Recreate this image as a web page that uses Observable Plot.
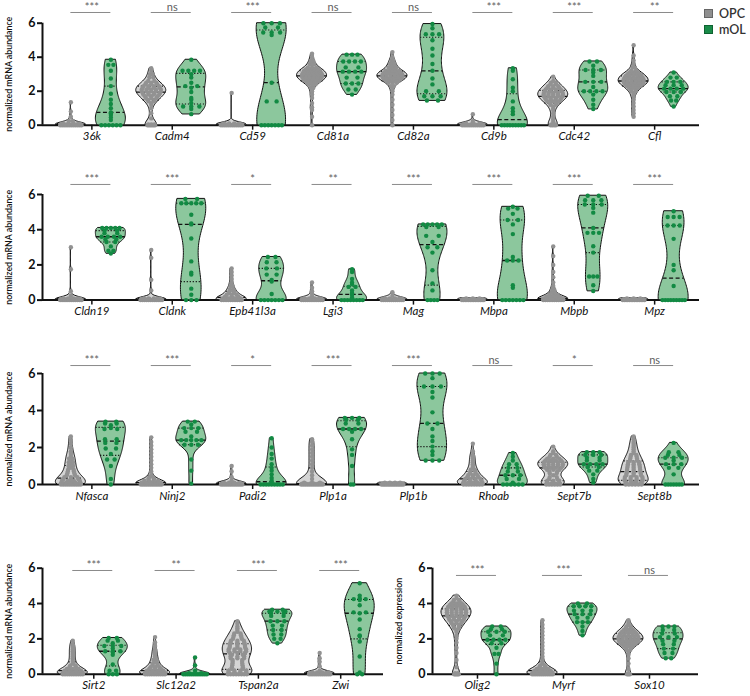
<!DOCTYPE html>
<html><head><meta charset="utf-8">
<script src="https://cdn.jsdelivr.net/npm/d3@7"></script>
<script src="https://cdn.jsdelivr.net/npm/@observablehq/plot@0.6"></script>
<style>
body{margin:0;background:#fff;font-family:Lato,"Open Sans",sans-serif}
#fig{position:relative;width:750px;height:696px;overflow:hidden;background:#fff}
#fig svg{position:absolute;background:transparent;overflow:visible}
.lg{position:absolute;left:704px;font:600 12.5px Lato,sans-serif;color:#333;display:flex;align-items:center;height:12px}
.lg span.sw{display:inline-block;width:9px;height:9px;margin-right:6px;box-sizing:border-box}
</style></head><body><div id="fig"></div><script>
// ---------------- data ----------------
const genesRow1 = ["36k","Cadm4","Cd59","Cd81a","Cd82a","Cd9b","Cdc42","Cfl"];
const sigRow1 = ["***","ns","***","ns","ns","***","***","**"];
const opcRow1 = [
 [0,0,0,0,0,0,0,0,0,0,0,0,0.05,0.05,0.05,0.05,0.05,0.05,0.1,0.1,0.1,0.1,0.25,0.25,0.5,0.8,1.35],
 [0,0,0,0,0,0,0.05,0.05,0.05,0.4,0.7,1,1.2,1.3,1.4,1.4,1.5,1.5,1.6,1.6,1.6,1.7,1.7,1.7,1.8,1.8,1.8,1.8,1.9,1.9,1.9,1.9,2,2,2,2,2,2.1,2.1,2.1,2.1,2.1,2.2,2.2,2.2,2.2,2.3,2.3,2.3,2.3,2.4,2.4,2.4,2.5,2.5,2.5,2.6,2.6,2.8,2.8,3,3,3.2,3.35],
 [0,0,0,0,0,0,0,0,0,0,0,0,0.05,0.05,0.05,0.05,0.05,0.05,0.1,0.1,0.1,0.1,1.9],
 [0,0.5,0.9,1.05,1.3,1.6,1.8,2,2.2,2.2,2.4,2.4,2.4,2.5,2.5,2.5,2.6,2.6,2.6,2.6,2.7,2.7,2.7,2.7,2.7,2.8,2.8,2.8,2.8,2.8,2.8,2.9,2.9,2.9,2.9,2.9,2.9,3,3,3,3,3,3,3.1,3.1,3.1,3.1,3.1,3.2,3.2,3.2,3.2,3.2,3.3,3.3,3.3,3.3,3.4,3.4,3.4,3.6,3.6,3.6,3.8,3.8,4,4.2],
 [0,0.3,0.6,0.9,1.2,1.5,1.8,2,2.2,2.3,2.3,2.5,2.5,2.5,2.6,2.6,2.6,2.6,2.7,2.7,2.7,2.7,2.7,2.8,2.8,2.8,2.8,2.8,2.8,2.9,2.9,2.9,2.9,2.9,2.9,3,3,3,3,3,3,3.1,3.1,3.1,3.1,3.1,3.2,3.2,3.2,3.2,3.2,3.4,3.4,3.4,3.4,3.6,3.6,3.6,3.8,3.8,4,4.3],
 [0,0,0,0,0,0,0,0,0,0,0,0,0.05,0.05,0.05,0.05,0.05,0.05,0.1,0.1,0.1,0.25,0.65],
 [0,0,0,0,0.05,0.05,0.2,0.35,0.5,0.7,0.9,1,1.1,1.2,1.2,1.3,1.3,1.4,1.4,1.4,1.5,1.5,1.5,1.5,1.6,1.6,1.6,1.6,1.7,1.7,1.7,1.7,1.7,1.8,1.8,1.8,1.8,1.8,1.9,1.9,1.9,1.9,1.9,2,2,2,2,2.1,2.1,2.1,2.1,2.2,2.2,2.2,2.3,2.3,2.3,2.4,2.4,2.5,2.5,2.6,2.85],
 [0.5,0.7,0.9,1.1,1.3,1.5,1.7,1.8,1.9,2,2,2.1,2.1,2.2,2.2,2.2,2.3,2.3,2.3,2.3,2.4,2.4,2.4,2.4,2.4,2.5,2.5,2.5,2.5,2.5,2.5,2.6,2.6,2.6,2.6,2.6,2.6,2.7,2.7,2.7,2.7,2.7,2.7,2.8,2.8,2.8,2.8,2.8,2.9,2.9,2.9,2.9,2.9,3,3,3,3,3.1,3.1,3.1,3.2,3.2,3.4,3.4,3.6,3.8,4.1,4.7]
];
const molRow1 = [
 [0,0,0,0,0,0,0.3,0.45,0.6,0.7,0.75,1,1.25,1.5,1.85,2.3,2.75,3.2,3.55,3.55,3.85],
 [0.65,0.95,1.1,1.1,1.1,1.3,1.5,1.6,1.95,2.2,2.3,2.3,2.5,2.8,3,3.2,3.2,3.2,3.2,3.85],
 [0,0,0,0,0,0,0,1.4,1.4,2.5,5.3,5.45,5.45,5.45,5.75,5.75,6,6,6],
 [1.8,2.1,2.1,2.45,2.45,2.45,2.8,2.8,3.15,3.15,3.15,3.15,3.4,3.4,3.75,3.75,3.75,3.75,4.15,4.15,4.15],
 [1.45,1.45,1.7,1.7,1.7,2,2,2.4,2.75,3.2,3.6,4.1,4.5,5,5.35,5.35,5.35,5.7,5.95],
 [0,0,0,0,0,0,0,0,0,0.65,0.8,1,1.4,2,2.2,2.7,3.2,3.35],
 [0.95,1.2,1.5,1.8,2,2,2,2,2.25,2.55,2.55,2.55,2.9,3.1,3.25,3.25,3.25,3.5,3.75,3.75],
 [1.1,1.45,1.45,1.7,1.7,1.95,1.95,1.95,2.15,2.15,2.15,2.15,2.35,2.35,2.35,2.55,2.55,2.55,2.8,2.8,3.1]
];

const genesRow2 = ["Cldn19","Cldnk","Epb41l3a","Lgi3","Mag","Mbpa","Mbpb","Mpz"];
const sigRow2 = ["***","***","*","**","***","***","***","***"];
const opcRow2 = [
 [0,0,0,0,0,0,0,0,0,0,0,0,0.05,0.05,0.05,0.05,0.05,0.05,0.1,0.1,0.1,0.1,0.25,0.5,1.75,3],
 [0,0,0,0,0,0,0,0,0,0,0,0,0.05,0.05,0.05,0.05,0.05,0.05,0.1,0.1,0.1,0.1,0.55,1.15,2.4,2.85],
 [0,0,0,0,0,0,0,0,0,0,0.05,0.05,0.05,0.05,0.05,0.1,0.1,0.1,0.1,0.2,0.2,0.2,0.3,0.3,0.3,0.4,0.4,0.5,0.5,0.6,0.6,0.8,0.8,1,1.2,1.4,1.6,1.8],
 [0,0,0,0,0,0,0,0,0,0,0,0,0.05,0.05,0.05,0.05,0.05,0.05,0.1,0.1,0.1,0.1,0.2,0.35,0.5,0.7,1],
 [0,0,0,0,0,0,0,0,0,0,0,0,0.05,0.05,0.05,0.05,0.05,0.05,0.1,0.1,0.1,0.1,0.25,0.45],
 [0,0,0,0,0,0,0,0,0,0,0,0,0,0,0.05,0.05,0.05,0.05,0.05,0.05,0.1,0.1,0.1],
 [0,0,0,0,0,0,0,0,0,0,0.05,0.05,0.05,0.05,0.05,0.05,0.1,0.1,0.1,0.1,0.1,0.2,0.2,0.2,0.2,0.3,0.3,0.3,0.45,0.45,0.6,0.6,0.8,1,1.3,1.6,2,2.5,3.05],
 [0,0,0,0,0,0,0,0,0,0,0,0,0,0,0.05,0.05,0.05,0.05,0.05,0.05,0.1,0.1,0.1]
];
const molRow2 = [
 [2.65,2.8,2.8,3.05,3.3,3.3,3.45,3.45,3.6,3.6,3.6,3.6,3.8,3.8,3.95,3.95,4.1,4.1,4.1,4.1,4.1],
 [0,0,0,0.3,0.65,1.45,1.55,2.2,3.5,4.3,4.35,4.85,5.5,5.5,5.5,5.5,5.5,5.75,5.75],
 [0,0,0,0,0,0,0,0.35,1.05,1.15,1.45,1.45,1.8,1.8,2.15,2.15,2.45,2.45],
 [0,0,0,0,0,0,0,0,0.15,0.3,0.35,0.4,0.55,0.75,0.75,0.9,1,1.2,1.6,1.75],
 [0,0,0,0,0.55,0.95,1.7,2.7,3,3,3.3,3.65,3.65,4.15,4.15,4.3,4.3,4.3,4.3,4.3],
 [0,0,0,0,0,0,0,0.7,0.85,2.25,2.25,2.25,2.45,3.75,4.3,4.55,4.55,4.9,5.2,5.2,5.3],
 [0.52,0.84,1.34,1.34,1.34,2.7,3.06,3.82,3.82,3.82,4.1,4.97,5.24,5.43,5.43,5.43,5.67,5.67,5.67,5.93,5.93],
 [0,0,0,0,0,0,0,0,0,0.8,1.7,2,3.48,4.24,4.24,4.24,4.72,4.72,4.72,5.05]
];

const genesRow3 = ["Nfasca","Ninj2","Padi2","Plp1a","Plp1b","Rhoab","Sept7b","Sept8b"];
const sigRow3 = ["***","***","*","***","***","ns","*","ns"];
const opcRow3 = [
 [0,0,0,0,0,0,0,0,0,0,0.05,0.05,0.05,0.05,0.05,0.05,0.1,0.1,0.1,0.1,0.1,0.2,0.2,0.2,0.2,0.3,0.3,0.3,0.4,0.4,0.4,0.5,0.5,0.6,0.6,0.7,0.7,0.8,0.8,0.9,1,1,1.1,1.2,1.2,1.3,1.4,1.4,1.5,1.6,1.7,1.8,2,2.2,2.4,2.6],
 [0,0,0,0,0,0,0,0,0,0,0,0,0.05,0.05,0.05,0.05,0.05,0.05,0.1,0.1,0.1,0.1,0.1,0.2,0.2,0.2,0.2,0.3,0.3,0.4,0.4,0.5,0.7,0.9,1.1,1.3,1.5,1.7,1.9,2.1,2.3,2.55],
 [0,0,0,0,0,0,0,0,0,0,0,0,0.05,0.05,0.05,0.05,0.05,0.05,0.1,0.1,0.1,0.1,0.2,0.4,0.7,1],
 [0,0,0,0,0,0,0,0,0,0,0,0,0.05,0.05,0.05,0.05,0.05,0.05,0.1,0.1,0.1,0.3,0.5,0.7,0.9,1.1,1.3,1.5,1.7,1.9,2.1,2.3,2.45],
 [0,0,0,0,0,0,0,0,0,0,0,0,0,0,0.05,0.05,0.05,0.05,0.05,0.05,0.1,0.1,0.1,0.1],
 [0,0,0,0,0,0,0,0,0.05,0.05,0.05,0.05,0.05,0.05,0.1,0.1,0.1,0.1,0.1,0.2,0.2,0.2,0.2,0.3,0.3,0.3,0.3,0.4,0.4,0.4,0.5,0.5,0.5,0.6,0.6,0.7,0.7,0.8,0.8,0.9,1,1.1,1.2,1.3,1.4,1.5,1.6,1.8,2.2],
 [0,0,0,0,0,0,0.05,0.05,0.05,0.05,0.1,0.1,0.1,0.2,0.2,0.2,0.3,0.3,0.4,0.4,0.5,0.6,0.6,0.7,0.7,0.8,0.8,0.8,0.9,0.9,0.9,0.9,1,1,1,1,1,1.1,1.1,1.1,1.1,1.1,1.2,1.2,1.2,1.2,1.2,1.3,1.3,1.3,1.3,1.4,1.4,1.4,1.5,1.5,1.6,1.6,1.7,1.8,2.05],
 [0,0,0,0,0,0,0.05,0.05,0.05,0.05,0.1,0.1,0.1,0.2,0.2,0.2,0.2,0.3,0.3,0.3,0.3,0.4,0.4,0.4,0.4,0.5,0.5,0.5,0.6,0.6,0.6,0.7,0.7,0.7,0.8,0.8,0.8,0.9,0.9,0.9,1,1,1,1.1,1.1,1.1,1.2,1.2,1.2,1.3,1.3,1.4,1.4,1.5,1.5,1.6,1.6,1.7,1.8,1.9,2,2.1,2.2,2.3,2.45,2.6]
];
const molRow3 = [
 [0,0.3,1,1.35,1.35,1.65,1.95,1.95,2.25,2.25,2.45,2.45,3,3,3.05,3.2,3.3,3.3,3.4,3.4],
 [0.05,0.75,1.35,2.15,2.15,2.15,2.4,2.4,2.4,2.4,2.4,2.6,2.85,2.85,3.05,3.05,3.05,3.25,3.4,3.4],
 [0,0,0,0,0,0,0,0,0,0.1,0.2,0.35,0.55,0.75,0.9,1.1,1.4,1.65,2,2.5],
 [0,0,1,1.6,1.9,2.45,2.85,3,3,3,3,3.3,3.3,3.5,3.5,3.6,3.6,3.6],
 [1.3,1.3,1.3,1.6,1.8,2.05,2.35,2.6,3,3.3,3.3,3.9,4.7,5,5.3,5.3,5.3,5.75,6,6,6],
 [0,0,0,0,0,0,0.1,0.3,0.3,0.5,0.5,0.5,0.7,0.7,0.9,0.9,1.1,1.1,1.3,1.5,1.7],
 [0.1,0.3,0.55,0.75,0.75,0.95,0.95,1.1,1.1,1.1,1.1,1.3,1.3,1.45,1.45,1.6,1.6,1.6,1.75,1.75,1.75],
 [0,0,0,0,0,0,0,0.55,0.9,0.9,1.1,1.1,1.1,1.3,1.45,1.45,1.45,1.6,1.6,1.75,1.75,2.25]
];

const genesRow4a = ["Sirt2","Slc12a2","Tspan2a","Zwi"];
const sigRow4a = ["***","**","***","***"];
const opcRow4a = [
 [0,0,0,0,0,0,0,0,0,0,0.05,0.05,0.05,0.05,0.05,0.05,0.1,0.1,0.1,0.1,0.1,0.2,0.2,0.2,0.2,0.3,0.3,0.3,0.4,0.4,0.5,0.5,0.6,0.7,0.8,0.9,1,1.1,1.2,1.3,1.4,1.5,1.6,1.7,1.9],
 [0,0,0,0,0,0,0,0,0,0,0.05,0.05,0.05,0.05,0.05,0.05,0.1,0.1,0.1,0.1,0.1,0.2,0.2,0.2,0.2,0.3,0.3,0.3,0.4,0.4,0.4,0.5,0.5,0.6,0.6,0.7,0.8,0.8,0.9,1,1.1,1.2,1.3,1.4,1.6,1.8,2.1],
 [0,0,0,0,0,0,0,0,0.05,0.05,0.05,0.05,0.1,0.1,0.1,0.1,0.2,0.2,0.2,0.2,0.3,0.3,0.4,0.4,0.5,0.5,0.6,0.6,0.7,0.7,0.8,0.8,0.9,0.9,0.9,1,1,1,1.1,1.1,1.2,1.2,1.2,1.3,1.3,1.3,1.3,1.4,1.4,1.4,1.4,1.5,1.5,1.5,1.6,1.6,1.6,1.7,1.7,1.7,1.8,1.8,1.8,1.9,1.9,1.9,2,2,2.1,2.1,2.2,2.2,2.3,2.3,2.4,2.5,2.6,2.7,2.85,3],
 [0,0,0,0,0,0,0,0,0,0,0,0,0.05,0.05,0.05,0.05,0.05,0.05,0.1,0.1,0.1,0.1,0.2,0.45,0.7,0.9,1.2]
];
const molRow4a = [
 [0,0,0,0.2,0.2,0.55,1.1,1.25,1.3,1.3,1.3,1.45,1.6,1.6,1.6,1.75,1.9,1.9,2.05,2.05],
 [0,0,0,0,0,0,0,0,0,0,0,0,0,0.05,0.05,0.2,0.5,0.95],
 [1.75,2,2,2.25,2.25,2.5,2.5,2.75,2.75,3,3,3,3.3,3.3,3.45,3.45,3.55,3.55,3.55,3.65,3.65],
 [0,0,0.1,1,1.85,2.15,2.2,2.55,3.1,3.45,3.5,3.5,3.9,4.2,4.25,4.25,4.3,4.45,5.15]
];

const genesRow4b = ["Olig2","Myrf","Sox10"];
const sigRow4b = ["***","***","ns"];
const opcRow4b = [
 [0,0,0,0,0,0.05,0.05,0.4,0.8,1.2,1.5,1.8,2,2.2,2.4,2.5,2.6,2.6,2.7,2.7,2.8,2.8,2.9,2.9,2.9,3,3,3,3.1,3.1,3.1,3.1,3.2,3.2,3.2,3.2,3.3,3.3,3.3,3.3,3.3,3.4,3.4,3.4,3.4,3.4,3.5,3.5,3.5,3.5,3.5,3.6,3.6,3.6,3.6,3.6,3.7,3.7,3.7,3.7,3.7,3.8,3.8,3.8,3.8,3.8,3.9,3.9,3.9,3.9,4,4,4,4.1,4.1,4.2,4.2,4.3,4.45],
 [0,0,0,0,0,0,0,0,0,0,0,0,0.05,0.05,0.05,0.05,0.05,0.05,0.1,0.1,0.1,0.1,0.1,0.2,0.2,0.2,0.2,0.3,0.3,0.3,0.4,0.4,0.5,0.5,0.6,0.8,1,1.2,1.4,1.6,1.8,2,2.2,2.4,2.6,2.8,3.05],
 [0,0,0,0.05,0.3,0.6,0.9,1.1,1.3,1.4,1.4,1.5,1.5,1.6,1.6,1.6,1.7,1.7,1.7,1.7,1.8,1.8,1.8,1.8,1.8,1.9,1.9,1.9,1.9,1.9,1.9,2,2,2,2,2,2,2.1,2.1,2.1,2.1,2.1,2.1,2.2,2.2,2.2,2.2,2.2,2.3,2.3,2.3,2.3,2.3,2.4,2.4,2.4,2.4,2.5,2.5,2.5,2.6,2.6,2.7,2.7,2.8,2.9,3.05]
];
const molRow4b = [
 [0,0.6,1.15,1.15,1.5,1.75,1.75,1.95,1.95,1.95,1.95,2.2,2.2,2.4,2.4,2.4,2.55,2.55,2.7,2.7],
 [2.2,2.45,2.7,2.95,2.95,2.95,3.2,3.2,3.4,3.4,3.4,3.6,3.6,3.6,3.85,3.85,3.85,3.85,4,4],
 [0.9,0.9,1.2,1.2,1.45,1.45,1.7,1.7,1.9,1.9,2.1,2.1,2.1,2.3,2.3,2.5,2.5,2.7,2.7,2.7]
];

const yTicks = [0, 2, 4, 6];
const groupNames = ["OPC", "mOL"];

// ---------------- styles ----------------
const fillOf = {OPC: "#d4d4d4", mOL: "#8cc79d"};
const dotOf = {OPC: "#929292", mOL: "#128a43"};
const swatchOf = {OPC: "#8f8f8f", mOL: "#1a8b49"};
const FONT = "Lato, 'Open Sans', sans-serif";

function panel(p) {
  const {genes, sig, opc, mol} = p;
  const n = genes.length;
  const spacing = (p.xEnd - p.xAxis) / (p.dom[1] - p.dom[0]);
  const hw = 15 / spacing, offO = 21 / spacing, offM = 19 / spacing;
  const areas = [], quarts = [], dots = [];
  genes.forEach((g, i) => {
    [["OPC", opc[i]], ["mOL", mol[i]]].forEach(([grp, vals]) => {
      const c = i + (grp === "OPC" ? -offO : offM);
      const v = vals.slice().sort(d3.ascending);
      const lo = v[0], hi = v[v.length - 1];
      const sd = d3.deviation(v) || 0;
      const iqr = (d3.quantile(v, 0.75) - d3.quantile(v, 0.25)) / 1.34;
      let s = Math.min(sd, iqr); if (!(s > 0)) s = sd;
      const h = Math.max(0.12, 0.9 * s * Math.pow(v.length, -0.2));
      const dens = y => d3.sum(v, x => Math.exp(-0.5 * ((y - x) / h) ** 2));
      const N = 60;
      const ys = d3.range(N + 1).map(k => lo + (hi - lo) * k / N);
      const ds = ys.map(dens);
      const mx = d3.max(ds);
      const w = y => hw * dens(y) / mx;
      ys.forEach((y, k) => areas.push({key: g + grp, grp, y, x1: c - hw * ds[k] / mx, x2: c + hw * ds[k] / mx}));
      [[0.25, "q"], [0.5, "m"], [0.75, "q"]].forEach(([q, kind]) => {
        const y = d3.quantile(v, q);
        quarts.push({grp, kind, y, x1: c - w(y), x2: c + w(y)});
      });
      d3.groups(v, d => d).forEach(([y, arr]) => {
        const m = arr.length, ww = w(y) * (grp === "OPC" ? 0.8 : 0.85);
        arr.forEach((_, k) => dots.push({grp, y, x: c + (m === 1 ? 0 : ww * (-1 + (2 * k + 1) / m))}));
      });
    });
  });
  const sigRows = genes.map((g, i) => ({i, s: sig[i]}));
  const marks = [
    Plot.ruleY([0], {stroke: "#111", strokeWidth: 2}),
    Plot.ruleX([p.dom[0]], {y1: 0, y2: 6, stroke: "#111", strokeWidth: 2}),
    Plot.axisY({ticks: yTicks, tickFormat: d3.format("d"), tickSize: 5, tickPadding: 2, strokeWidth: 2, fontWeight: "bold", fontSize: 12.5, label: null}),
    Plot.axisX({ticks: d3.range(n), tickFormat: i => genes[i], tickSize: 5, tickPadding: 2, strokeWidth: 1.5, fontStyle: "italic", fontSize: 11.5, label: null}),
    Plot.text([3], {y: d => d, frameAnchor: "left", textAnchor: "middle", dx: -33, rotate: -90, text: () => p.ylabel, fontSize: 8.8, fontWeight: 600, fill: "#111"}),
    Plot.ruleY(sigRows, {y: () => p.sigY, x1: d => d.i - offO, x2: d => d.i + offM, stroke: "#8a8a8a", strokeWidth: 1}),
    Plot.text(sigRows, {x: "i", y: () => p.sigY, text: "s", lineAnchor: "middle", dy: -5, fill: "#5e5e5e", fontSize: 11})
  ];
  for (const grp of groupNames) {
    marks.push(Plot.areaX(areas.filter(d => d.grp === grp), {y: "y", x1: "x1", x2: "x2", z: "key", fill: fillOf[grp], stroke: "#111", strokeWidth: 1}));
    marks.push(Plot.ruleY(quarts.filter(d => d.grp === grp && d.kind === "m"), {y: "y", x1: "x1", x2: "x2", stroke: "#111", strokeWidth: 1.3, strokeDasharray: "4,2.5"}));
    marks.push(Plot.ruleY(quarts.filter(d => d.grp === grp && d.kind === "q"), {y: "y", x1: "x1", x2: "x2", stroke: "#111", strokeWidth: 1.1, strokeDasharray: "1.2,1.8"}));
    marks.push(Plot.dot(dots.filter(d => d.grp === grp), {x: "x", y: "y", r: 2.2, fill: dotOf[grp], stroke: "none"}));
  }
  const svg = Plot.plot({
    width: p.width, height: p.height,
    marginLeft: p.xAxis - p.left, marginRight: p.left + p.width - p.xEnd,
    marginTop: p.y6 - p.top, marginBottom: p.top + p.height - p.y0,
    x: {domain: p.dom},
    y: {domain: [0, 6]},
    style: {fontFamily: FONT, background: "transparent", overflow: "visible", color: "#111"},
    marks
  });
  svg.style.position = "absolute";
  svg.style.left = p.left + "px";
  svg.style.top = p.top + "px";
  svg.style.background = "transparent";
  document.getElementById("fig").appendChild(svg);
}

const mRNA = "normalized mRNA abundance";
panel({genes: genesRow1, sig: sigRow1, opc: opcRow1, mol: molRow1, ylabel: mRNA,
  left: 0, width: 750, top: 0, height: 150, y6: 22.7, y0: 124.7, xAxis: 42, xEnd: 699, dom: [-0.614, 7.558], sigY: 6.63});
panel({genes: genesRow2, sig: sigRow2, opc: opcRow2, mol: molRow2, ylabel: mRNA,
  left: 0, width: 750, top: 165, height: 160, y6: 194, y0: 299.6, xAxis: 42, xEnd: 699, dom: [-0.614, 7.558], sigY: 6.57});
panel({genes: genesRow3, sig: sigRow3, opc: opcRow3, mol: molRow3, ylabel: mRNA,
  left: 0, width: 750, top: 345, height: 165, y6: 373, y0: 484, xAxis: 42, xEnd: 699, dom: [-0.614, 7.558], sigY: 6.43});
panel({genes: genesRow4a, sig: sigRow4a, opc: opcRow4a, mol: molRow4a, ylabel: mRNA,
  left: 0, width: 400, top: 545, height: 151, y6: 567.7, y0: 673.7, xAxis: 42, xEnd: 383, dom: [-0.623, 3.52], sigY: 5.87});
panel({genes: genesRow4b, sig: sigRow4b, opc: opcRow4b, mol: molRow4b, ylabel: "normalized expression",
  left: 385, width: 365, top: 545, height: 151, y6: 567.7, y0: 673.7, xAxis: 432, xEnd: 698, dom: [-0.523, 2.57], sigY: 5.59});

// legend
groupNames.forEach((g, k) => {
  const div = document.createElement("div");
  div.className = "lg";
  div.style.top = (7 + k * 16) + "px";
  div.innerHTML = `<span class="sw" style="background:${swatchOf[g]};border:1px solid ${g === "OPC" ? "#666" : "#0e6231"}"></span>${g}`;
  document.getElementById("fig").appendChild(div);
});
</script></body></html>
